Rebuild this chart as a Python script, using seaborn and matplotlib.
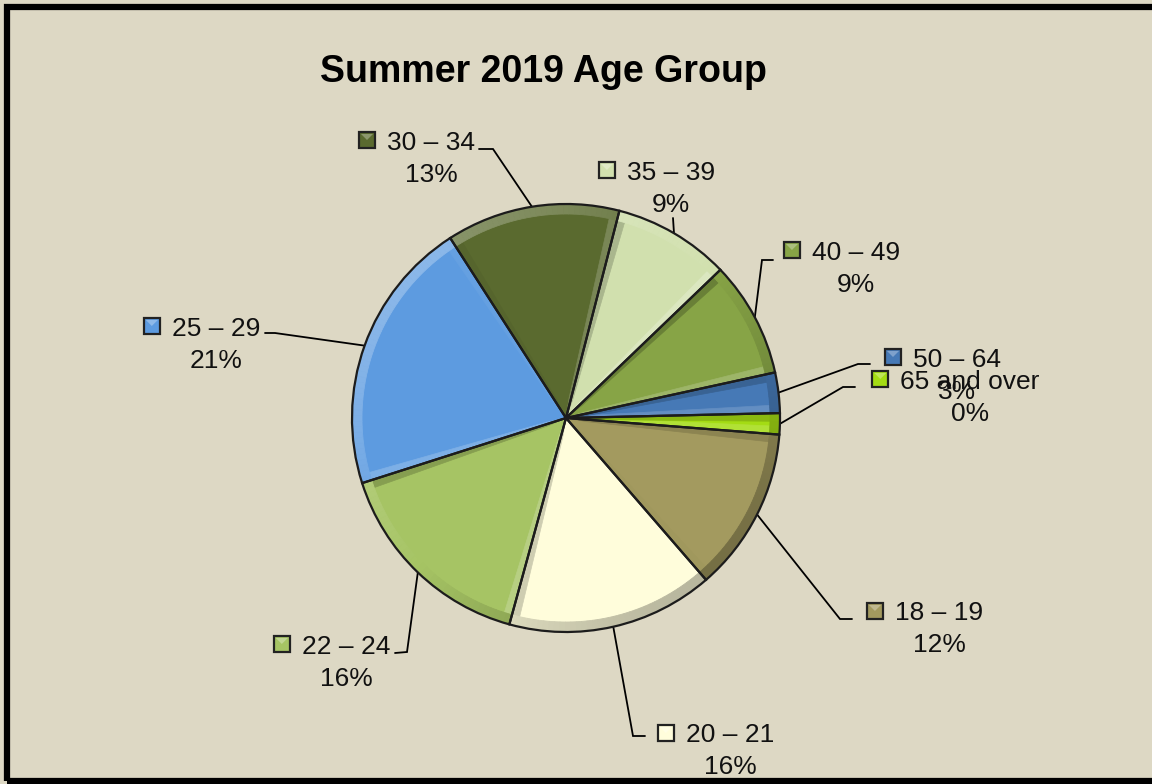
import matplotlib
matplotlib.use("Agg")
import numpy as np
import matplotlib.pyplot as plt
import seaborn as sns
from matplotlib.colors import to_rgb
from matplotlib.patches import Rectangle, Wedge, Polygon

# ---- data ----
categories = ["18 – 19", "20 – 21", "22 – 24", "25 – 29", "30 – 34",
              "35 – 39", "40 – 49", "50 – 64", "65 and over"]
shares = [12.4, 15.6, 15.8, 20.8, 13.1, 8.8, 8.75, 3.05, 1.6]
pct_labels = ["12%", "16%", "16%", "21%", "13%", "9%", "9%", "3%", "0%"]
title_text = "Summer 2019 Age Group"

# ---- styles / layout ----
slice_colors = ["#A39A5F", "#FFFDDB", "#A6C464", "#5D9BE0", "#5A6A2F",
                "#D1E0AE", "#87A446", "#4679B6", "#A4DC14"]
bg = "#DDD8C4"
W, H = 1152, 784
pie_center_px = (566, 418)
pie_radius = 214
# label name-line centres (pixels, y down)
label_pos = [(939, 611), (730, 733), (346, 644), (216, 326), (431, 140),
             (671, 170), (856, 250), (957, 357), (970, 379)]
elbows = [(840, 619), (633, 736), (407, 652), (275, 333), (493, 149),
          (673, 218), (762, 260), (858, 364), (843, 387)]
ends = [(852, 619), (645, 736), (395, 653), (265, 333), (479, 149),
        (673, 218), (773, 260), (870, 364), (855, 387)]

sns.set_theme(style="white")
plt.rcParams["font.family"] = ["Liberation Sans", "DejaVu Sans"]
palette = sns.color_palette(slice_colors)


def Y(y):
    return H - y


def shade(col, k, amt):
    c = np.array(to_rgb(col))
    tgt = np.ones(3) if k > 0 else np.zeros(3)
    a = amt * abs(k)
    return tuple(c * (1 - a) + tgt * a)


LIGHT = np.deg2rad(135)

fig = plt.figure(figsize=(W / 100, H / 100), dpi=100, facecolor=bg)
ax = fig.add_axes([0, 0, 1, 1])
ax.set_facecolor(bg)

cx, cy = pie_center_px[0], Y(pie_center_px[1])
wedges, _ = ax.pie(shares, colors=palette, startangle=-4.45, counterclock=False,
                   center=(cx, cy), radius=pie_radius,
                   wedgeprops=dict(edgecolor="none", linewidth=0))
ax.set_xlim(0, W)
ax.set_ylim(0, H)
ax.set_aspect("equal")
ax.axis("off")

# bevel-like shading (light from upper left), opaque blended colours
for i, w in enumerate(wedges):
    base = palette[i]
    # radial edge strips
    for th, sgn in ((w.theta1, 1), (w.theta2, -1)):
        u = np.array([np.cos(np.deg2rad(th)), np.sin(np.deg2rad(th))])
        n = np.array([np.cos(np.deg2rad(th + sgn * 90)),
                      np.sin(np.deg2rad(th + sgn * 90))])
        k = np.cos(np.deg2rad(th + sgn * 90) - LIGHT)
        c = np.array([cx, cy])
        E = c + u * (pie_radius - 2)
        pts = [c, E, E + n * 8 - u * 6, c + u * 20 + n * 2]
        colr = shade(base, k, 0.22)
        ax.add_patch(Polygon(pts, closed=True, facecolor=colr, edgecolor=colr,
                             lw=0.5, zorder=2))
    # outer rim
    segs = np.linspace(w.theta1, w.theta2, max(2, int((w.theta2 - w.theta1) / 1.5) + 1))
    for a0, a1 in zip(segs[:-1], segs[1:]):
        k = np.cos(np.deg2rad((a0 + a1) / 2) - LIGHT)
        colr = shade(base, k, 0.28)
        ax.add_patch(Wedge((cx, cy), pie_radius - 1, a0, a1, width=9,
                           facecolor=colr, edgecolor=colr, lw=0.6, zorder=2))
for w in wedges:
    ax.add_patch(Wedge((cx, cy), pie_radius, w.theta1, w.theta2, fill=False,
                       edgecolor="#1c1c1c", lw=1.6, zorder=3))

# title
ax.text(543, Y(82), title_text, ha="center", va="baseline",
        fontsize=27, fontweight="bold", color="black")

renderer = fig.canvas.get_renderer()
for i, w in enumerate(wedges):
    mid = np.deg2rad((w.theta1 + w.theta2) / 2)
    ex, ey = cx + pie_radius * np.cos(mid), cy + pie_radius * np.sin(mid)
    (bx, by), (fx, fy) = elbows[i], ends[i]
    ax.plot([ex, bx, fx], [ey, Y(by), Y(fy)], color="black", lw=1.3,
            solid_joinstyle="miter", zorder=1)
    lx, ly = label_pos[i]
    t = ax.text(lx, Y(ly + 9.5), categories[i], ha="center", va="baseline",
                fontsize=19, color="#111111")
    ax.text(lx, Y(ly + 32 + 9.5), pct_labels[i], ha="center", va="baseline",
            fontsize=19, color="#111111")
    bb = t.get_window_extent(renderer)
    mx = bb.x0 - 20
    ax.add_patch(Rectangle((mx - 8, Y(ly) - 8), 16, 16, facecolor=palette[i],
                           edgecolor="#222222", lw=1.6, zorder=3))
    ax.add_patch(Polygon([(mx - 6, Y(ly) + 6), (mx + 6, Y(ly) + 6), (mx, Y(ly))],
                         closed=True, facecolor=shade(palette[i], 1, 0.3),
                         edgecolor="none", zorder=4))

# outer chart frame
ax.add_patch(Rectangle((7, Y(781)), 1160, 774, fill=False, edgecolor="black",
                       lw=4.5, clip_on=False, zorder=5))

fig.savefig("out.png", dpi=100, facecolor=bg)
